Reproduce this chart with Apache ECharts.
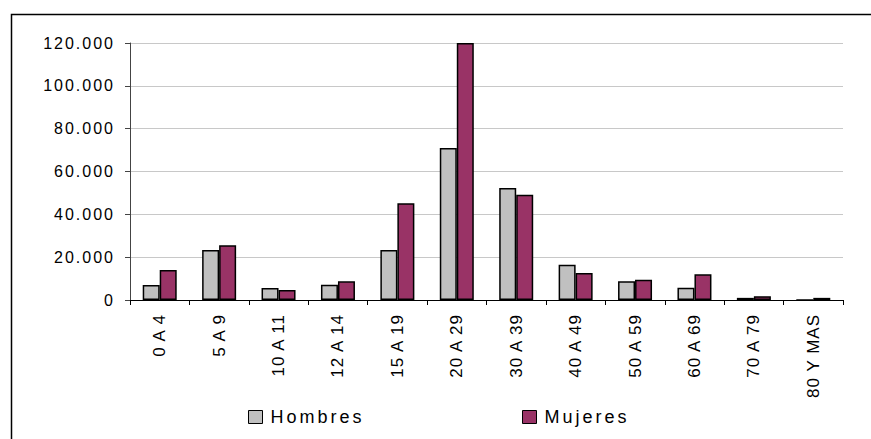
<!DOCTYPE html>
<html>
<head>
<meta charset="utf-8">
<script src="https://cdn.jsdelivr.net/npm/echarts@6/dist/echarts.min.js"></script>
<style>
  html, body { margin: 0; padding: 0; background: #fff; }
  #chart { width: 871px; height: 439px; }
</style>
</head>
<body>
<div id="chart"></div>
<script>
// Age groups and population counts by sex
const ageGroups = ['0 A 4', '5 A 9', '10 A 11', '12 A 14', '15 A 19', '20 A 29',
                   '30 A 39', '40 A 49', '50 A 59', '60 A 69', '70 A 79', '80 Y MAS'];
const hombres = [7000, 23400, 5600, 7100, 23400, 71000, 52300, 16500, 8700, 5700, 1000, 0];
const mujeres = [14000, 25600, 4700, 8700, 45200, 120000, 49100, 12600, 9500, 12000, 1800, 1000];
const yTicks = [0, 20000, 40000, 60000, 80000, 100000, 120000];

const FONT = '"Liberation Sans", Arial, sans-serif';

function thousands(v) {
  return String(v).replace(/\B(?=(\d{3})+(?!\d))/g, '.');
}

const chart = echarts.init(document.getElementById('chart'), null, { renderer: 'svg' });

const legendText = { fontFamily: FONT, fontSize: 18, color: '#000', padding: [0, 0, 0, 3] };

chart.setOption({
  animation: false,
  backgroundColor: '#fff',
  textStyle: { fontFamily: FONT, color: '#000' },
  graphic: [{
    type: 'rect',
    left: 9, top: 12,
    shape: { width: 880, height: 440 },
    style: { fill: 'none', stroke: '#000', lineWidth: 1.5 },
    silent: true
  }],
  legend: [
    {
      data: ['Hombres'], left: 248, top: 408, padding: 0,
      icon: 'rect', itemWidth: 14, itemHeight: 13,
      itemStyle: { borderColor: '#000', borderWidth: 1 },
      textStyle: legendText
    },
    {
      data: ['Mujeres'], left: 522, top: 408, padding: 0,
      icon: 'rect', itemWidth: 14, itemHeight: 13,
      itemStyle: { borderColor: '#000', borderWidth: 1 },
      textStyle: legendText
    }
  ],
  grid: { left: 130, right: 28, top: 43, bottom: 139, containLabel: false },
  xAxis: {
    type: 'category',
    data: ageGroups,
    boundaryGap: true,
    axisLine: { lineStyle: { color: '#000', width: 1 } },
    axisTick: { show: true, alignWithLabel: false, length: 5, lineStyle: { color: '#000' } },
    axisLabel: { interval: 0, rotate: 90, margin: 14, fontSize: 17, color: '#000', fontFamily: FONT }
  },
  yAxis: {
    type: 'value',
    min: yTicks[0],
    max: yTicks[yTicks.length - 1],
    interval: yTicks[1] - yTicks[0],
    axisLine: { show: true, lineStyle: { color: '#444', width: 1 } },
    axisTick: { show: true, length: 5, lineStyle: { color: '#444' } },
    splitLine: { show: true, lineStyle: { color: '#c8c8c8', width: 1 } },
    axisLabel: { margin: 15, fontSize: 16, color: '#000', fontFamily: FONT, formatter: thousands }
  },
  series: [
    {
      name: 'Hombres', type: 'bar', data: hombres,
      barWidth: 17, barGap: '0%',
      itemStyle: { color: '#c0c0c0', borderColor: '#000', borderWidth: 1.5 }
    },
    {
      name: 'Mujeres', type: 'bar', data: mujeres,
      barWidth: 17, barGap: '0%',
      itemStyle: { color: '#993366', borderColor: '#000', borderWidth: 1.5 }
    }
  ]
});

// Loose letter spacing on the drawn text, by font size
const spacingBySize = { 17: '1px', 16: '2px', 18: '3px' };
document.querySelectorAll('#chart svg text').forEach(function (t) {
  const size = Math.round(parseFloat(getComputedStyle(t).fontSize));
  if (spacingBySize[size]) t.style.letterSpacing = spacingBySize[size];
});
</script>
</body>
</html>
